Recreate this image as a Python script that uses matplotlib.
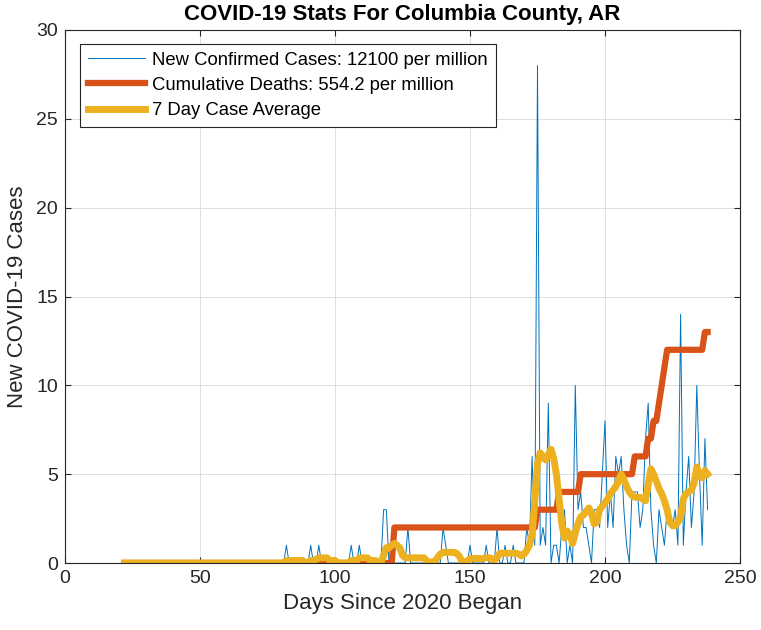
import numpy as np
import matplotlib
matplotlib.use("Agg")
import matplotlib.pyplot as plt

plt.rcParams['font.family'] = ['Liberation Sans', 'DejaVu Sans']

# days since 2020 began, first reported day .. last day
first_day = 22
last_day = 238
days = np.arange(first_day, last_day + 1)

# new confirmed cases per day
early_cases = [0] * 60  # days 22..81
cases_82_171 = [
    1, 0, 0, 0, 0, 0, 0, 0, 0, 1,   # 82-91
    0, 0, 1, 0, 0, 0, 0, 0, 0, 0,   # 92-101
    0, 0, 0, 0, 1, 0, 0, 1, 0, 0,   # 102-111
    0, 0, 0, 0, 0, 0, 3, 3, 0, 0,   # 112-121
    0, 0, 0, 0, 0, 2, 0, 0, 0, 0,   # 122-131
    0, 0, 0, 0, 0, 0, 0, 0, 2, 1,   # 132-141
    0, 0, 0, 0, 0, 0, 0, 0, 1, 0,   # 142-151
    0, 0, 0, 0, 1, 0, 0, 0, 2, 0,   # 152-161
    0, 1, 0, 0, 1, 0, 0, 0, 0, 2,   # 162-171
]
cases_172_238 = [
    1, 6, 1, 28, 1, 2, 1, 9, 0, 1,  # 172-181
    1, 0, 2, 3, 0, 1, 0, 10, 3, 4,  # 182-191
    2, 2, 1, 0, 3, 3, 2, 5, 8, 2,   # 192-201
    4, 2, 6, 5, 6, 3, 1, 0, 4, 4,   # 202-211
    4, 2, 3, 7, 9, 3, 1, 0, 3, 2,   # 212-221
    1, 3, 3, 2, 3, 1, 14, 1, 4, 6,  # 222-231
    2, 4, 10, 5, 1, 7, 3,           # 232-238
]
new_cases = early_cases + cases_82_171 + cases_172_238

# cumulative deaths
deaths = ([0] * 100 + [2] * 53 + [3] * 8 + [4] * 8 + [5] * 20 + [6] * 5
          + [7, 7, 8, 8, 9, 10, 11] + [12] * 14 + [13, 13])

# 7 day case average
avg_early = [0] * 60  # days 22..81
avg_82_169 = [
    0.14, 0.14, 0.14, 0.14, 0.14, 0.14, 0.14, 0.0, 0.0, 0.14,   # 82-91
    0.14, 0.2, 0.29, 0.29, 0.29, 0.29, 0.14, 0.14, 0.14, 0.0,   # 92-101
    0.0, 0.0, 0.0, 0.0, 0.14, 0.14, 0.14, 0.29, 0.29, 0.29,     # 102-111
    0.29, 0.14, 0.14, 0.14, 0.0, 0.0, 0.43, 0.86, 0.86, 1.0,    # 112-121
    1.1, 1.0, 0.86, 0.43, 0.3, 0.29, 0.29, 0.29, 0.29, 0.29,    # 122-131
    0.29, 0.29, 0.1, 0.05, 0.05, 0.1, 0.3, 0.5, 0.6, 0.6,       # 132-141
    0.6, 0.6, 0.6, 0.55, 0.4, 0.1, 0.05, 0.1, 0.25, 0.25,       # 142-151
    0.25, 0.25, 0.25, 0.25, 0.3, 0.3, 0.25, 0.15, 0.3, 0.55,    # 152-161
    0.55, 0.55, 0.55, 0.55, 0.55, 0.55, 0.5, 0.4,               # 162-169
]
avg_170_238 = [
    0.5, 0.7, 1.0, 1.6, 3.5, 5.6, 6.2, 6.0, 5.8, 6.1,   # 170-179
    6.4, 5.9, 5.0, 3.6, 2.2, 1.4, 1.8, 1.6, 1.1, 1.7,   # 180-189
    2.2, 2.6, 2.7, 2.9, 3.1, 2.8, 2.2, 2.3, 3.0, 3.2,   # 190-199
    3.4, 3.6, 3.9, 4.1, 4.3, 4.6, 5.0, 4.7, 4.3, 4.0,   # 200-209
    3.8, 3.7, 3.7, 3.7, 3.6, 3.5, 4.4, 5.3, 5.0, 4.6,   # 210-219
    4.2, 3.9, 3.5, 3.0, 2.3, 2.1, 2.1, 2.3, 2.6, 3.6,   # 220-229
    3.9, 4.0, 4.1, 4.5, 5.4, 4.9, 4.8, 5.2, 5.0,        # 230-238
]
case_avg = avg_early + avg_82_169 + avg_170_238

labels = ['New Confirmed Cases: 12100 per million',
          'Cumulative Deaths: 554.2 per million',
          '7 Day Case Average']

fig = plt.figure(figsize=(7.61, 6.30), dpi=100)
ax = fig.add_axes([65 / 761, 67 / 630, 675 / 761, 533 / 630])

ax.plot(days, new_cases, color='#0072BD', lw=0.7, label=labels[0])
ax.plot(days, deaths, color='#D95319', lw=4.5, label=labels[1])
ax.plot(days, case_avg, color='#EDB120', lw=5, label=labels[2])

ax.set_xlim(0, 250)
ax.set_ylim(0, 30)
ax.set_xticks(np.arange(0, 251, 50))
ax.set_yticks(np.arange(0, 31, 5))
ax.grid(True, color='#dedede', lw=0.7)
ax.set_axisbelow(True)
ax.tick_params(direction='in', length=4, labelsize=14, colors='#262626',
               top=True, right=True, pad=5)
for s in ax.spines.values():
    s.set_color('#262626')
    s.set_linewidth(0.8)

ax.set_xlabel('Days Since 2020 Began', fontsize=16, color='#262626', labelpad=4)
ax.set_ylabel('New COVID-19 Cases', fontsize=16, color='#262626', labelpad=6)
ax.set_title('COVID-19 Stats For Columbia County, AR', fontsize=16,
             fontweight='bold', pad=7)

leg = ax.legend(loc='upper left', bbox_to_anchor=(0.022, 0.974), fontsize=13.3,
                handlelength=3.1, handletextpad=0.4, fancybox=False,
                framealpha=1, edgecolor='#262626', borderpad=0.42,
                labelspacing=0.45, borderaxespad=0)
leg.get_frame().set_linewidth(0.8)

fig.savefig('out.png', dpi=100)
